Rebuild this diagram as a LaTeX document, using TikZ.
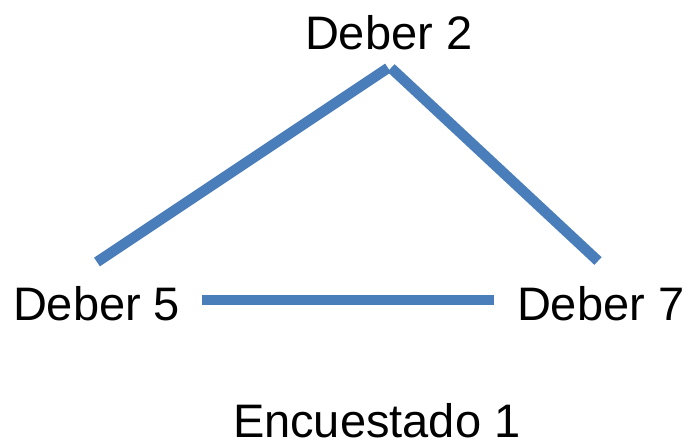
\documentclass[tikz,border=0pt]{standalone}
\usepackage{fontspec}
\setmainfont{Liberation Sans}
\definecolor{lineblue}{RGB}{74,126,187}
\tikzset{
  lbl/.style={anchor=base west, inner sep=0pt, outer sep=0pt, font=\fontsize{47}{50}\selectfont},
  edge/.style={draw=lineblue, line width=10.5pt, line cap=butt}
}
\begin{document}
\begin{tikzpicture}[x=1pt,y=-1pt]
\useasboundingbox (0,0) rectangle (689,445);
\node[lbl] (d2) at (305,49) {Deber 2};
\node[lbl] (d5) at (13,320) {Deber 5};
\node[lbl] (d7) at (517,320) {Deber 7};
\node[lbl] (enc) at (233,437) {Encuestado 1};
\coordinate (a1) at (97,262);
\coordinate (a2) at (388,68);
\coordinate (b1) at (391,68);
\coordinate (b2) at (598,261);
\coordinate (c1) at (202,300);
\coordinate (c2) at (494,300);
\draw[edge] (a1) -- (a2);
\draw[edge] (b1) -- (b2);
\draw[edge] (c1) -- (c2);
\end{tikzpicture}
\end{document}
